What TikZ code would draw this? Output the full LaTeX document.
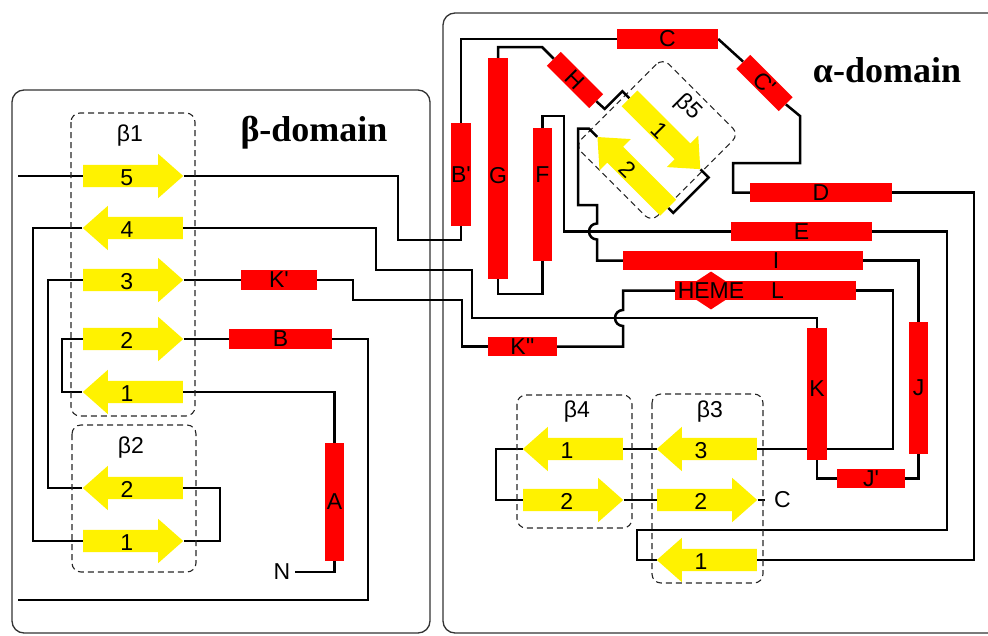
\documentclass[tikz,border=0pt]{standalone}
\usepackage{fontspec}
\setmainfont{Liberation Sans}
\newfontfamily\serifdom{Liberation Serif}
\usetikzlibrary{shapes.arrows,shapes.geometric}
\pgfdeclarelayer{back}
\pgfsetlayers{back,main}
\newcommand\prm{\textquotesingle}

\begin{document}
\begin{tikzpicture}[
x=1pt, y=-1pt,
lab/.style={font=\fontsize{23}{26}\selectfont},
helix/.style={rectangle, fill=red, inner sep=0pt, minimum width=#1, minimum height=19.5pt, lab},
vhelix/.style={rectangle, fill=red, inner sep=0pt, minimum width=19.5pt, minimum height=#1, lab},
strand/.style={single arrow, fill=yellow, inner sep=0pt, minimum height=100pt, minimum width=44pt,
  single arrow head extend=11pt, single arrow tip angle=83, text height=20pt, text depth=2pt,
  anchor=tail, lab},
strandL/.style={strand, shape border rotate=180, execute at end node={\hspace*{24pt}}},
link/.style={line width=2.5pt},
sheet/.style={draw=black!85, line width=1.1pt, dash pattern=on 6pt off 4pt, rounded corners=9pt},
domainbox/.style={draw=black!80, line width=1.3pt, rounded corners=12pt},
domlab/.style={font=\serifdom\bfseries\fontsize{36}{40}\selectfont}
]
\useasboundingbox (0,0) rectangle (988,635);

\node[domlab] (betadom) at (314,133) {β-domain};
\node[domlab] (alphadom) at (887,70) {α-domain};

\node[lab] (b1lab) at (130,136) {β1};
\node[strand] (b1s5) at (83,176) {5};
\node[strandL] (b1s4) at (183,228) {4};
\node[strand] (b1s3) at (83,280) {3};
\node[strand] (b1s2) at (83,339) {2};
\node[strandL] (b1s1) at (183,392) {1};
\node[lab] (b2lab) at (131,448) {β2};
\node[strandL] (b2s2) at (183,488) {2};
\node[strand] (b2s1) at (83,541) {1};

\node[helix=76pt] (Kp) at (279,280) {K\prm};
\node[helix=103pt] (B) at (280.5,339) {B};
\node[vhelix=118pt] (A) at (334.5,502) {A};
\node[lab, inner xsep=4pt, inner ysep=0pt] (nterm) at (282,572) {N};

\node[vhelix=103pt] (Bp) at (461,174.5) {B\prm};
\node[vhelix=221pt, label={[lab,yshift=-7pt]center:G}] (G) at (498,168.5) {};
\node[vhelix=133pt, label={[lab,yshift=19.5pt]center:F}] (F) at (542.5,194.5) {};
\node[helix=60pt, rotate=-45] (H) at (575,80) {H};
\node[helix=101pt] (C) at (667.5,39) {C};
\node[helix=60pt, rotate=-45] (Cp) at (764.5,83) {C\prm};
\node[helix=142pt] (D) at (821,192.5) {D};
\node[helix=141pt] (E) at (801.5,231.5) {E};
\node[helix=240pt, label={[lab,xshift=33pt]center:I}] (I) at (743,260.5) {};
\node[helix=181pt, label={[lab,xshift=12pt]center:L}] (L) at (765.5,290.5) {};
\node[diamond, fill=red, inner sep=0pt, minimum width=58pt, minimum height=38pt,
  label={[lab]center:HEME}] (heme) at (711,290.5) {};
\node[helix=69pt] (Kpp) at (522.5,346.5) {K\prm\prm};
\node[vhelix=132pt, label={[lab,yshift=5pt]center:K}] (K) at (817,394) {};
\node[vhelix=132pt] (J) at (918.5,388) {J};
\node[helix=68pt] (Jp) at (871,478.5) {J\prm};

\begin{scope}[shift={(657,140)}, rotate=-45]
\node[lab, transform shape] (b5lab) at (-1,-45) {β5};
\node[strand, transform shape] (b5s1) at (-49,-10) {1};
\node[strandL, transform shape] (b5s2) at (56,40) {2};
\coordinate (b5a) at (-59,15);
\coordinate (b5b) at (-59,-10);
\coordinate (b5c) at (-56,40);
\coordinate (b5d) at (63,-10);
\coordinate (b5e) at (63,40);
\begin{pgfonlayer}{back}
\draw[sheet] (-54,-62) rectangle (54,62);
\end{pgfonlayer}
\end{scope}

\node[lab] (b4lab) at (577,412) {β4};
\node[strandL] (b4s1) at (623,449) {1};
\node[strand] (b4s2) at (523,500) {2};
\node[lab] (b3lab) at (710,412) {β3};
\node[strandL] (b3s3) at (757,449) {3};
\node[strand] (b3s2) at (657,500) {2};
\node[strandL] (b3s1) at (757,560) {1};
\node[lab, anchor=west, inner xsep=9pt, inner ysep=0pt] (cterm) at (765,500) {C};

\coordinate (inN) at (18,176);
\coordinate (outS) at (18,600);

\begin{pgfonlayer}{back}
\begin{scope}
\clip (0,0) rectangle (988,635);
\draw[domainbox] (12,90) rectangle (430,633);
\draw[domainbox] (443,13) rectangle (1010,633);
\end{scope}
\draw[link] (inN) -- (b1s5.tail);
\draw[link] (b1s5.tip) -| (398,240) -| (Bp.south);
\draw[link] (b1s4.tip) -| (33,541) -- (b2s1.tail);
\draw[link] (b1s4.tail) -| (376,270) -| (472,318) -| (K.north);
\draw[link] (b1s3.tail) -| (48,488) -- (b2s2.tip);
\draw[link] (b1s3.tip) -- (Kp.west);
\draw[link] (Kp.east) -| (353,300) -| (462,346.5) -- (Kpp.west);
\draw[link] (b1s2.tail) -| (62,392) -- (b1s1.tip);
\draw[link] (b1s2.tip) -- (B.west);
\draw[link] (B.east) -| (368,600) -- (outS);
\draw[link] (b1s1.tail) -| (A.north);
\draw[link] (A.south) |- (nterm.east);
\draw[link] (b2s2.tail) -| (220,541) -- (b2s1.tip);
\draw[link] (Bp.north) |- (C.west);
\draw[link] (C.east) -- (Cp.west);
\draw[link] (Cp.east) -- (800,116) |- (733,163) |- (D.west);
\draw[link] (D.east) -| (974,560) -- (b3s1.tail);
\draw[link] (b3s1.tip) -| (637,530) -| (947,231.5) -- (E.east);
\draw[link] (E.west) -| (564,116) -| (F.north);
\draw[link] (F.south) |- (498,294) -- (G.south);
\draw[link] (G.north) |- (542,47) -- (H.west);
\draw[link] (H.east) -- (b5a) -- (b5b) -- (b5s1.tail);
\draw[link] (b5s1.tip) -- (b5d) -- (b5e) -- (b5s2.tail);
\draw[link] (b5s2.tip) -- (b5c) -| (578,205) -| (597,223.5)
  arc[start angle=90, end angle=270, radius=8pt] |- (I.west);
\draw[link] (I.east) -| (J.north);
\draw[link] (J.south) |- (Jp.east);
\draw[link] (Jp.west) -| (K.south);
\draw[link] (L.east) -| (893,449) -- (b3s3.tail);
\draw[link] (L.west) -| (623,310) arc[start angle=90, end angle=270, radius=8pt] |- (Kpp.east);
\draw[link] (b3s3.tip) -- (b4s1.tail);
\draw[link] (b4s1.tip) -| (496,500) -- (b4s2.tail);
\draw[link] (b4s2.tip) -- (b3s2.tail);
\draw[link] (b3s2.tip) -- (cterm.west);
\draw[sheet] (71,113) rectangle (195,416);
\draw[sheet] (72,425) rectangle (196,572);
\draw[sheet] (517,395) rectangle (632,528);
\draw[sheet] (652,394) rectangle (763,583);
\end{pgfonlayer}
\end{tikzpicture}
\end{document}
